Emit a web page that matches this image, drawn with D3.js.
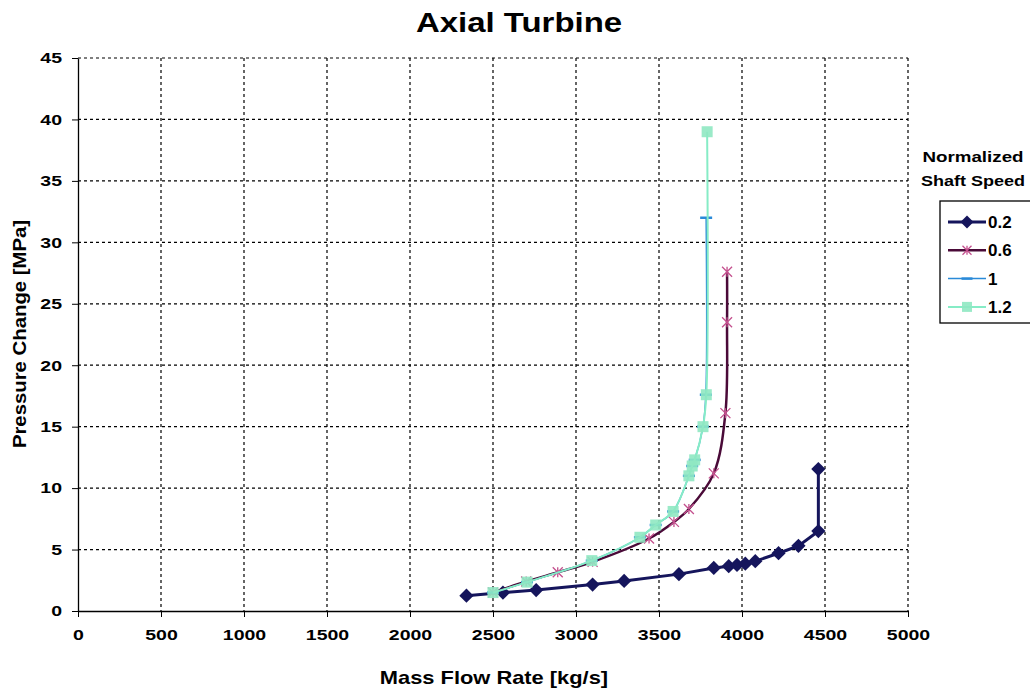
<!DOCTYPE html>
<html>
<head>
<meta charset="utf-8">
<script src="https://cdn.jsdelivr.net/npm/d3@7"></script>
<style>
  body { margin: 0; background: #fff; }
  text { font-family: "Liberation Sans", Arial, sans-serif; font-weight: bold; }
</style>
</head>
<body>
<div id="chart"></div>
<script>
// Values
var speeds = ["0.2", "0.6", "1", "1.2"]
var flow02 = [2340, 2560, 2760, 3100, 3290, 3620, 3830, 3920, 3970, 4020, 4080, 4220, 4340, 4460, 4460]
var dp02   = [1.25, 1.5, 1.7, 2.15, 2.45, 3.0, 3.5, 3.65, 3.75, 3.85, 4.05, 4.7, 5.3, 6.5, 11.55]
var flow06 = [2500, 2700, 2890, 3100, 3440, 3590, 3680, 3830, 3900, 3910, 3910]
var dp06   = [1.5, 2.4, 3.15, 4.0, 5.9, 7.25, 8.3, 11.2, 16.1, 23.5, 27.6]
var flow10 = [2500, 2705, 3095, 3385, 3480, 3585, 3680, 3700, 3715, 3765, 3782, 3784]
var dp10   = [1.5, 2.35, 4.1, 6.0, 7.0, 8.1, 11.0, 11.8, 12.3, 15.0, 17.6, 32.0]
var flow12 = [2500, 2705, 3095, 3385, 3480, 3585, 3680, 3700, 3715, 3765, 3785, 3790]
var dp12   = [1.5, 2.35, 4.1, 6.0, 7.0, 8.1, 11.0, 11.8, 12.3, 15.0, 17.6, 39.0]
var xTicks = [0, 500, 1000, 1500, 2000, 2500, 3000, 3500, 4000, 4500, 5000]
var yTicks = [0, 5, 10, 15, 20, 25, 30, 35, 40, 45]

var margin = {top: 58, right: 122, bottom: 78, left: 78},
    width = 1030 - margin.left - margin.right,
    height = 689 - margin.top - margin.bottom;

var smooth = d3.curveCatmullRom.alpha(0.5)
var series = [
  {name: speeds[0], xs: flow02, ys: dp02, line: "#15155c", lw: 3, marker: "diamond", mfill: "#15155c", curve: d3.curveLinear},
  {name: speeds[1], xs: flow06, ys: dp06, line: "#4a0a38", lw: 2.5, marker: "star", mfill: "#c4508e", curve: smooth},
  {name: speeds[2], xs: flow10, ys: dp10, line: "#2a8ad8", lw: 1.5, marker: "dash", mfill: "#2a8ad8", curve: smooth},
  {name: speeds[3], xs: flow12, ys: dp12, line: "#86ecc6", lw: 2, marker: "square", mfill: "#8fe8c2", curve: smooth}
]

// the scanned chart has wide lettering, so stretch text horizontally
function stretch(sel, k) {
  sel.each(function() {
    var len = this.getComputedTextLength()
    d3.select(this).attr("textLength", len * k).attr("lengthAdjust", "spacingAndGlyphs")
  })
}

var svg = d3.select("#chart").append("svg")
    .attr("width", 1030).attr("height", 689)

var g = svg.append("g")
    .attr("transform", "translate(" + margin.left + "," + margin.top + ")")

var x = d3.scaleLinear().domain([0, 5000]).range([0, width])
var y = d3.scaleLinear().domain([0, 45]).range([height, 0])

// grid
g.selectAll(".vgrid").data(xTicks.slice(1)).enter().append("line")
    .attr("x1", d => x(d)).attr("x2", d => x(d))
    .attr("y1", 0).attr("y2", height)
    .attr("stroke", "#000").attr("stroke-width", 1.2).attr("stroke-dasharray", "3,3")
g.selectAll(".hgrid").data(yTicks.slice(1)).enter().append("line")
    .attr("x1", 0).attr("x2", width)
    .attr("y1", d => y(d)).attr("y2", d => y(d))
    .attr("stroke", "#000").attr("stroke-width", 1.2).attr("stroke-dasharray", "3,3")

// axes
var xAxis = g.append("g").attr("transform", "translate(0," + height + ")")
    .call(d3.axisBottom(x).tickValues(xTicks).tickFormat(d3.format("d"))
      .tickSize(6).tickPadding(12).tickSizeOuter(0))
var yAxis = g.append("g")
    .call(d3.axisLeft(y).tickValues(yTicks).tickFormat(d3.format("d"))
      .tickSize(6).tickPadding(10).tickSizeOuter(0))
;[xAxis, yAxis].forEach(function(a) {
  a.select(".domain").attr("stroke", "#000").attr("stroke-width", 1.3)
  a.selectAll(".tick line").attr("stroke", "#000")
  a.selectAll("text").attr("font-size", 15).attr("fill", "#000")
    .style("font-family", "'Liberation Sans', Arial, sans-serif").style("font-weight", "bold")
    .call(stretch, 1.3)
})

function drawMarker(sel, type, color, s) {
  if (type == "diamond") {
    sel.append("path").attr("d", d3.symbol(d3.symbolDiamond2, s * s * 0.9)())
      .attr("fill", color)
  } else if (type == "square") {
    sel.append("rect").attr("x", -s / 2).attr("y", -s / 2).attr("width", s).attr("height", s)
      .attr("fill", color).attr("opacity", 0.9)
  } else if (type == "star") {
    var r = s / 2
    sel.append("path")
      .attr("d", "M" + (-r) + "," + (-r) + "L" + r + "," + r + "M" + (-r) + "," + r + "L" + r + "," + (-r) + "M0," + (-r) + "L0," + r)
      .attr("stroke", color).attr("stroke-width", 1.3).attr("fill", "none")
  } else if (type == "dash") {
    sel.append("line").attr("x1", -s / 2).attr("x2", s / 2)
      .attr("stroke", color).attr("stroke-width", 2.5)
  }
}

var markerSize = {diamond: 12, square: 11, star: 10, dash: 12}

series.forEach(function(s) {
  var pts = s.xs.map((v, i) => [v, s.ys[i]])
  var line = d3.line().x(d => x(d[0])).y(d => y(d[1])).curve(s.curve)
  g.append("path").datum(pts)
    .attr("d", line)
    .attr("fill", "none").attr("stroke", s.line).attr("stroke-width", s.lw)
  g.selectAll(null).data(pts).enter().append("g")
    .attr("transform", d => "translate(" + x(d[0]) + "," + y(d[1]) + ")")
    .each(function() { drawMarker(d3.select(this), s.marker, s.mfill, markerSize[s.marker]) })
})

// titles
svg.append("text").attr("x", 519).attr("y", 32).attr("text-anchor", "middle")
    .attr("font-size", 27).text("Axial Turbine").call(stretch, 1.22)
svg.append("text").attr("x", 494).attr("y", 684).attr("text-anchor", "middle")
    .attr("font-size", 19).text("Mass Flow Rate [kg/s]").call(stretch, 1.15)
svg.append("text").attr("transform", "translate(26,334) rotate(-90)")
    .attr("text-anchor", "middle").attr("font-size", 19).text("Pressure Change [MPa]").call(stretch, 1.07)

// legend
var lg = svg.append("g")
lg.append("text").attr("x", 973).attr("y", 162).attr("text-anchor", "middle")
    .attr("font-size", 15).text("Normalized").call(stretch, 1.25)
lg.append("text").attr("x", 973).attr("y", 186).attr("text-anchor", "middle")
    .attr("font-size", 15).text("Shaft Speed").call(stretch, 1.2)
lg.append("rect").attr("x", 940).attr("y", 201).attr("width", 100).attr("height", 122)
    .attr("fill", "#fff").attr("stroke", "#000").attr("stroke-width", 1.3)
series.forEach(function(s, i) {
  var ly = 222 + i * 28.3
  lg.append("line").attr("x1", 948).attr("x2", 986).attr("y1", ly).attr("y2", ly)
    .attr("stroke", s.line).attr("stroke-width", s.lw)
  var m = lg.append("g").attr("transform", "translate(967," + ly + ")")
  drawMarker(m, s.marker, s.mfill, markerSize[s.marker] - 1)
  lg.append("text").attr("x", 988).attr("y", ly + 6).attr("font-size", 17).text(s.name)
})
</script>
</body>
</html>
